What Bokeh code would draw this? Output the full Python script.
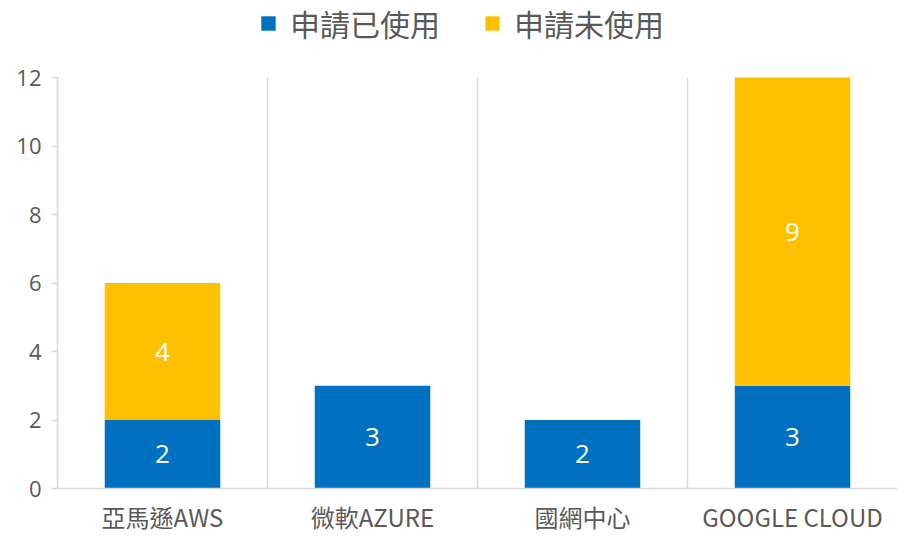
from bokeh.plotting import figure
from bokeh.models import (ColumnDataSource, Range1d, FixedTicker, Legend, LegendItem,
                          LabelSet)
from bokeh.core.properties import value
from bokeh.embed import file_html
from bokeh.resources import INLINE

categories = ["亞馬遜AWS", "微軟AZURE", "國網中心", "GOOGLE CLOUD"]
used = [2, 3, 2, 3]
unused = [4, 0, 0, 9]
series_names = ["申請已使用", "申請未使用"]
y_ticks = [0, 2, 4, 6, 8, 10, 12]

BLUE = "#0070C0"
GOLD = "#FFC000"
TXT = "#595959"
LINE = "#D9D9D9"
CJK = "Noto Sans CJK TC"

FRAME_H = 488      # frame height in px (frame runs from top of figure)
TOP_PX = 77        # where the 12 tick should sit

xs = [i + 0.5 for i in range(len(categories))]
src = ColumnDataSource(dict(
    x=xs,
    used=used,
    top=[u + n for u, n in zip(used, unused)],
))

ymax = y_ticks[-1]
p = figure(width=897, height=536, output_backend="svg", toolbar_location=None,
           x_range=Range1d(0, len(categories)),
           y_range=Range1d(0, ymax * FRAME_H / (FRAME_H - TOP_PX)),
           min_border_left=57, min_border_right=0, min_border_top=0,
           min_border_bottom=536 - FRAME_H)
p.outline_line_color = None
p.background_fill_color = "white"
p.border_fill_color = "white"

# category separators
bounds = list(range(len(categories)))
p.segment(x0=bounds, x1=bounds, y0=[0] * len(bounds), y1=[ymax] * len(bounds),
          line_color=LINE, line_width=1.5)

r1 = p.vbar(x="x", top="used", bottom=0, width=0.55, source=src,
            fill_color=BLUE, line_color=None)
r2 = p.vbar(x="x", top="top", bottom="used", width=0.55, source=src,
            fill_color=GOLD, line_color=None)

# value labels
lx, ly, lt = [], [], []
for x, u, n in zip(xs, used, unused):
    if u > 0:
        lx.append(x); ly.append(u / 2); lt.append(str(u))
    if n > 0:
        lx.append(x); ly.append(u + n / 2); lt.append(str(n))
lsrc = ColumnDataSource(dict(x=lx, y=ly, t=lt))
p.add_layout(LabelSet(x="x", y="y", text="t", source=lsrc, text_align="center",
                      text_baseline="middle", text_color="white",
                      text_font_size=value("26px"), text_font=value("Open Sans")))

# axes
p.xaxis.ticker = FixedTicker(ticks=xs)
p.xaxis.major_label_overrides = {x: c for x, c in zip(xs, categories)}
p.xaxis.major_tick_line_color = None
p.xaxis.minor_tick_line_color = None
p.xaxis.axis_line_color = LINE
p.xaxis.axis_line_width = 1.5
p.xaxis.major_label_text_font = CJK
p.xaxis.major_label_text_font_size = "24px"
p.xaxis.major_label_text_color = TXT
p.xaxis.major_label_standoff = 4

p.yaxis.ticker = FixedTicker(ticks=y_ticks)
p.yaxis.bounds = (0, ymax)
p.yaxis.minor_tick_line_color = None
p.yaxis.axis_line_color = LINE
p.yaxis.axis_line_width = 1.5
p.yaxis.major_tick_line_color = LINE
p.yaxis.major_tick_line_width = 1.5
p.yaxis.major_tick_in = 0
p.yaxis.major_tick_out = 6
p.yaxis.major_label_text_font = "Open Sans"
p.yaxis.major_label_text_font_size = "22px"
p.yaxis.major_label_text_color = TXT
p.yaxis.major_label_standoff = 10

p.ygrid.grid_line_color = None
p.xgrid.grid_line_color = None

legend = Legend(items=[LegendItem(label=series_names[0], renderers=[r1]),
                       LegendItem(label=series_names[1], renderers=[r2])],
                location=(202, FRAME_H - 45), orientation="horizontal",
                padding=0, margin=0, spacing=43, label_standoff=13,
                glyph_width=18, glyph_height=18,
                border_line_color=None, background_fill_alpha=0,
                label_text_font=CJK, label_text_font_size="30px",
                label_text_color=TXT)
p.add_layout(legend, "center")

open("out.html", "w").write(file_html(p, INLINE))
